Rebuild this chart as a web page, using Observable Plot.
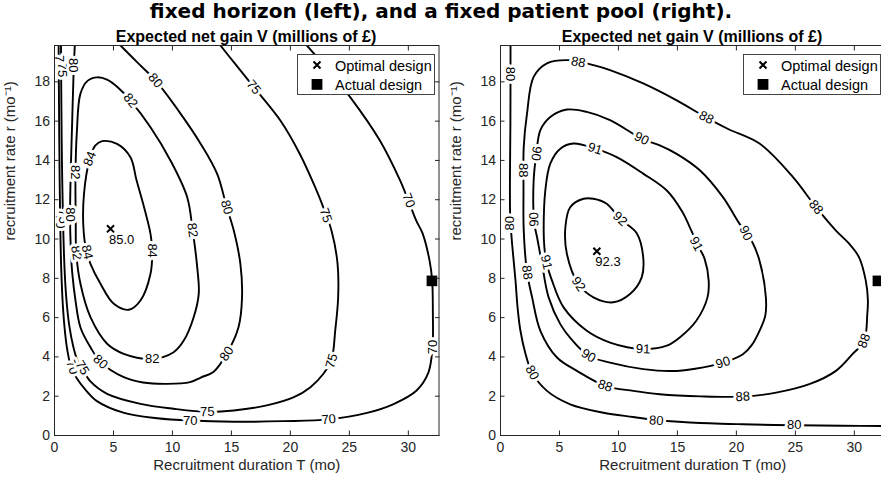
<!DOCTYPE html>
<html><head><meta charset="utf-8">
<script src="https://cdn.jsdelivr.net/npm/d3@7"></script>
<script src="https://cdn.jsdelivr.net/npm/@observablehq/plot@0.6"></script>
<style>
html,body{margin:0;padding:0;background:#fff;overflow:hidden}
#root{position:relative;width:881px;height:487px;overflow:hidden;font-family:"Liberation Sans",Arial,sans-serif;color:#262626;background:#fff}
.title{position:absolute;left:0;top:0px;width:882px;text-align:center;font-family:"DejaVu Sans";font-weight:bold;font-size:20px;line-height:22px;color:#000;white-space:nowrap}
.sub{position:absolute;width:400px;top:27px;text-align:center;font-family:"Liberation Sans",Arial,sans-serif;font-weight:bold;font-size:16px;line-height:19px;color:#000;white-space:nowrap}
.panel{position:absolute;top:25px;width:440px;height:462px}
.legend{position:absolute;top:54px;width:136px;height:39px;border:1px solid #444;background:#fff;font-size:14.5px;line-height:17px;color:#000;white-space:nowrap}
.legend span{position:absolute;left:37px}
</style>
</head><body><div id="root"></div>
<script>
// ---------- texts ----------
const title = "fixed horizon (left), and a fixed patient pool (right).";
const subtitle = "Expected net gain V (millions of £)";
const xLabel = "Recruitment duration T (mo)";
const yLabel = "recruitment rate r (mo⁻¹)";
const legendLabels = ["Optimal design", "Actual design"];
const xTicks = [0, 5, 10, 15, 20, 25, 30];
const yTicks = [0, 2, 4, 6, 8, 10, 12, 14, 16, 18];
const xDomain = [0, 32.6];
const yDomain = [0, 19.85];

// ---------- left panel (fixed horizon): contour polylines [T, r] ----------
const L70 = [[0.35,19.85],[0.38,17],[0.42,14],[0.48,11],[0.57,8.5],[0.72,6.5],[0.9,5.2],[1.1,4.3],[1.4,3.5],[1.9,2.9],[2.6,2.35],[3.6,1.75],[5.9,1.15],[8.7,0.88],[11.5,0.76],[15.2,0.7],[19.4,0.73],[23.25,0.82],[26.5,1.15],[28.75,1.6],[30.7,2.29],[31.7,3.2],[32.05,4.5],[32.08,6.2],[32.02,7.9],[31.8,8.9],[31.2,10.3],[30.7,10.9],[30.0,11.96],[29.3,12.98],[27.6,15.0],[25.1,17.2],[23.2,18.6],[21.4,19.85]];
const L75 = [[0.55,19.85],[0.58,17],[0.63,14],[0.72,11],[0.85,8.5],[1.0,7],[1.25,5.6],[1.6,4.5],[1.95,3.8],[2.35,3.4],[3.05,2.75],[4.46,2.12],[7.29,1.61],[10.1,1.36],[13.0,1.2],[15.2,1.27],[18.0,1.53],[20.3,1.95],[21.7,2.46],[22.8,3.14],[23.5,3.9],[23.8,5.34],[24.05,7.04],[24.0,8.74],[23.5,10.4],[22.8,11.6],[22.1,12.64],[20.8,14.33],[19.15,16.03],[16.9,17.73],[15.2,19.0],[14.07,19.85]];
const L80 = [[1.72,19.85],[1.62,18.5],[1.5,16],[1.38,13.5],[1.32,11.2],[1.38,9.5],[1.5,8.3],[1.78,6.87],[2.2,5.5],[3.05,4.49],[3.9,3.75],[5.87,2.97],[7.5,2.7],[9.55,2.63],[11.5,2.72],[12.4,2.95],[13.5,3.25],[14.6,4.16],[15.6,5.51],[15.9,7.04],[15.76,8.74],[15.2,10.43],[14.6,11.62],[13.8,13.3],[12.4,14.84],[10.7,16.37],[8.56,18.07],[7.0,19.0],[5.6,19.85]];
const L82 = [[1.8,11],[1.78,13.4],[1.9,15.5],[2.2,17.4],[2.8,18.05],[3.62,18.23],[4.5,18.1],[5.4,17.7],[6.44,17.05],[8.14,15.69],[9.83,14.0],[11.25,12.13],[11.7,10.5],[12.1,8.56],[12.23,7.21],[11.8,6.02],[10.96,4.83],[10.1,4.24],[8.28,3.9],[5.87,4.16],[4.46,4.67],[3.05,6.02],[2.2,7.72],[1.85,9.25]];
const L84 = [[2.45,10.6],[2.5,12.3],[2.99,14.08],[3.45,14.75],[4.04,14.98],[5.3,14.84],[6.44,14.16],[6.95,13.0],[7.6,11.6],[8.14,10.26],[8.28,9.41],[8.14,8.23],[7.29,6.87],[6.3,6.4],[5.03,6.7],[3.9,7.72],[3.05,8.74],[2.7,9.4]];
// contour labels [T, r, level, angle°]
const leftLabels = [[0.40,19.0,70,90],[0.64,18.6,75,90],[1.62,18.85,80,90],[0.48,10.9,70,90],[0.72,11.15,75,90],[1.32,11.25,80,90],[1.78,13.4,82,90],[1.85,9.3,82,80],[2.99,14.08,84,-69],[2.77,9.33,84,77],[8.28,9.41,84,90],[1.5,3.48,70,71],[2.35,3.45,75,59],[3.9,3.75,80,42],[8.28,3.9,82,0],[11.5,0.76,70,0],[12.95,1.21,75,-2],[23.25,0.82,70,-5],[14.6,4.16,80,-57],[23.5,3.8,75,-75],[32.07,4.5,70,-90],[30.03,11.96,70,68],[23.0,11.2,75,70],[16.9,17.73,75,51],[14.6,11.62,80,74],[8.56,18.07,80,50],[6.44,17.05,82,51],[11.7,10.45,82,82]];
const leftOptimal = [4.75, 10.52, 85.0];

// ---------- right panel (fixed patient pool) ----------
const R80 = [[0.85,19.85],[0.84,16],[0.8,13],[0.82,11.2],[0.95,10],[1.1,9],[1.27,7.9],[1.45,6.5],[1.69,5.33],[2.1,4.2],[2.68,3.2],[3.94,2.27],[5.91,1.59],[8.72,1.16],[11.26,0.94],[13.2,0.78],[14.1,0.74],[17.7,0.62],[20.55,0.57],[24.9,0.52],[29,0.5],[32.6,0.48]];
const R88 = [[1.97,10.43],[1.95,12.5],[1.97,14.68],[2.25,16.39],[2.81,18.25],[3.94,18.94],[5.91,19.1],[7.88,18.85],[9.29,18.6],[12.1,17.92],[14.9,17.07],[17.46,16.18],[19.3,15.6],[21.96,14.86],[24.8,13.15],[26.75,11.62],[28.44,10.43],[29.5,9.8],[30.4,9.07],[30.97,7.88],[31.15,6.9],[31.1,6.18],[30.83,4.82],[29.84,4.14],[28.44,3.29],[26.18,2.61],[23.37,2.18],[20.55,1.98],[17,1.99],[13.5,2.1],[11.26,2.27],[8.87,2.53],[6.48,3.29],[4.79,3.97],[3.38,5.33],[2.68,7.03],[2.25,8.3]];
const R90 = [[2.87,10.78],[2.81,12.98],[3.04,14.35],[3.38,15.54],[4.22,16.21],[5.63,16.59],[7.32,16.47],[9.29,16.05],[11.97,15.11],[13.5,14.77],[14.9,14.35],[16.9,13.5],[18.86,12.13],[20.27,10.77],[21.3,9.9],[21.96,8.9],[22.5,7.03],[22.45,6.1],[21.96,5.33],[21.3,4.6],[20.55,4.14],[18.86,3.71],[16.5,3.4],[14.5,3.28],[12.1,3.38],[9.29,3.71],[7.46,4.06],[6.0,4.9],[5.07,5.67],[4.08,7.03],[3.52,8.73],[3.1,10.09]];
const R91 = [[3.66,10.43],[3.8,12.47],[4.22,13.84],[5.07,14.6],[6.19,14.86],[8.02,14.6],[9.85,14.17],[12.1,13.33],[14.1,12.47],[15.4,11.4],[16.2,10.4],[16.8,9.6],[17.3,9.0],[17.65,7.88],[17.55,7.03],[16.6,5.84],[15.2,4.99],[14.1,4.57],[12.1,4.4],[9.29,4.73],[7.32,5.33],[5.35,6.52],[4.37,7.88],[3.89,8.82],[3.72,9.58]];
const R92 = [[5.5,10.6],[5.91,11.62],[7.04,12.05],[7.88,12.05],[9.0,11.8],[10.14,11.03],[11.55,10.3],[12.1,9.07],[11.97,8.05],[10.98,7.2],[9.57,6.78],[7.88,7.03],[6.61,7.71],[5.63,9.24]];
const rightLabels = [[0.84,18.4,80,90],[0.75,10.8,80,-90],[1.96,13.5,88,90],[2.25,8.3,88,83],[6.6,19.0,88,10],[3.04,14.35,90,97],[2.85,11.0,90,-92],[3.89,8.82,91,77],[6.61,7.71,92,55],[10.14,11.03,92,42],[8.02,14.6,91,17],[11.97,15.11,90,27],[17.46,16.18,88,27],[26.75,11.62,88,51],[16.6,9.75,91,63],[20.8,10.3,90,65],[12.1,4.4,91,2],[7.46,4.06,90,31],[8.87,2.53,88,19],[2.68,3.2,80,60],[13.2,0.76,80,4],[24.9,0.52,80,0],[18.86,3.71,90,-17],[20.55,1.98,88,-3],[30.83,4.82,88,-70]];
const rightOptimal = [8.17, 9.38, 92.3];

const actualDesign = [32.0, 7.87];

const leftContours = [{level:70, closed:false, pts:L70},{level:75, closed:false, pts:L75},{level:80, closed:false, pts:L80},{level:82, closed:true, pts:L82},{level:84, closed:true, pts:L84}];
const rightContours = [{level:80, closed:false, pts:R80},{level:88, closed:true, pts:R88},{level:90, closed:true, pts:R90},{level:91, closed:true, pts:R91},{level:92, closed:true, pts:R92}];

const axisColor = "#262626";

function panel(contours, labels, opt) {
  const open = [], closed = [];
  contours.forEach((c, i) => c.pts.forEach(([T, r]) => (c.closed ? closed : open).push({id: i, T, r})));
  const labelRows = labels.map(([T, r, v, a]) => ({T, r, v, a}));
  return Plot.plot({
    width: 440, height: 462,
    marginLeft: 54, marginRight: 1.5, marginTop: 20, marginBottom: 52,
    x: {domain: xDomain},
    y: {domain: yDomain},
    style: {fontFamily: '"Liberation Sans", Arial, sans-serif', fontSize: "14px", color: axisColor, background: "transparent", overflow: "visible"},
    marks: [
      Plot.line(open, {x: "T", y: "r", z: "id", curve: "catmull-rom", stroke: "#000", strokeWidth: 1.9, clip: true}),
      Plot.line(closed, {x: "T", y: "r", z: "id", curve: "catmull-rom-closed", stroke: "#000", strokeWidth: 1.9, clip: true}),
      Plot.text(labelRows, {x: "T", y: "r", text: d => String(d.v), rotate: "a", fontSize: 13, fill: "#000", stroke: "#fff", strokeWidth: 6, textAnchor: "middle"}),
      Plot.dot([opt], {x: d => d[0], y: d => d[1], symbol: "times", r: 3.3, stroke: "#000", strokeWidth: 2}),
      Plot.text([opt], {x: d => d[0], y: d => d[1], text: d => d3.format(".1f")(d[2]), textAnchor: "start", dx: -1.5, dy: 11, fontSize: 13, fill: "#000"}),
      Plot.dot([actualDesign], {x: d => d[0], y: d => d[1], symbol: "square", r: 6, fill: "#000", stroke: "none"}),
      Plot.frame({stroke: axisColor, strokeWidth: 1}),
      Plot.axisX({anchor: "bottom", ticks: xTicks, tickSize: -4.5, tickPadding: 11, fontSize: 14, label: null, stroke: axisColor, fill: axisColor}),
      Plot.axisX({anchor: "top", ticks: xTicks, tickSize: -4.5, label: null, stroke: axisColor, fill: "none"}),
      Plot.axisY({anchor: "left", ticks: yTicks, tickSize: -4.5, tickPadding: 9, fontSize: 14, label: null, stroke: axisColor, fill: axisColor}),
      Plot.axisY({anchor: "right", ticks: yTicks, tickSize: -4.5, label: null, stroke: axisColor, fill: "none"}),
      Plot.text([xLabel], {frameAnchor: "bottom", dy: 34, text: d => d, fontSize: 15, fill: axisColor}),
      Plot.text([yLabel], {frameAnchor: "left", dx: -44, rotate: -90, text: d => d, fontSize: 15, fill: axisColor})
    ]
  });
}

function legend(left) {
  const div = document.createElement("div");
  div.className = "legend";
  div.style.left = left + "px";
  div.innerHTML =
    `<svg width="34" height="39" style="position:absolute;left:0;top:0">` +
    `<path d="M15.5,6.5L22.5,13.5M22.5,6.5L15.5,13.5" stroke="#000" stroke-width="2" fill="none"/>` +
    `<rect x="13.6" y="24" width="10.8" height="10.8" fill="#000"/></svg>` +
    `<span style="top:3.4px">${legendLabels[0]}</span>` +
    `<span style="top:22.4px">${legendLabels[1]}</span>`;
  return div;
}

const root = document.getElementById("root");
const t = document.createElement("div"); t.className = "title"; t.textContent = title; root.appendChild(t);
const s1 = document.createElement("div"); s1.className = "sub"; s1.style.left = (246 - 200) + "px"; s1.textContent = subtitle; root.appendChild(s1);
const s2 = document.createElement("div"); s2.className = "sub"; s2.style.left = (692 - 200) + "px"; s2.textContent = subtitle; root.appendChild(s2);
const p1 = document.createElement("div"); p1.className = "panel"; p1.style.left = "0px"; p1.appendChild(panel(leftContours, leftLabels, leftOptimal)); root.appendChild(p1);
const p2 = document.createElement("div"); p2.className = "panel"; p2.style.left = "446px"; p2.appendChild(panel(rightContours, rightLabels, rightOptimal)); root.appendChild(p2);
root.appendChild(legend(297));
root.appendChild(legend(743));
</script>
</body></html>
